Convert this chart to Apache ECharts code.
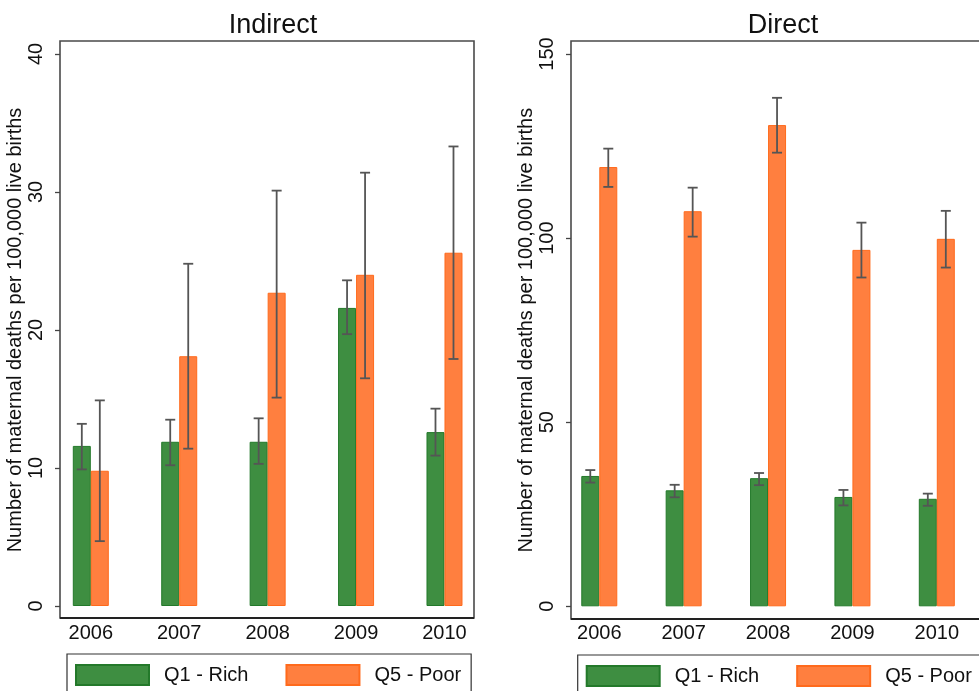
<!DOCTYPE html>
<html>
<head>
<meta charset="utf-8">
<script src="https://cdn.jsdelivr.net/npm/echarts@6/dist/echarts.min.js"></script>
<style>
  html, body { margin: 0; padding: 0; background: #fff; }
  #chart { width: 979px; height: 691px; }
</style>
</head>
<body>
<div id="chart"></div>
<script>
// Maternal deaths per 100,000 live births, richest vs poorest quintile
var years = ['2006', '2007', '2008', '2009', '2010'];
var groupNames = ['Q1 - Rich', 'Q5 - Poor'];

// Indirect causes
var indirectRich   = [11.6, 11.9, 11.9, 21.6, 12.6];
var indirectRichLo = [9.9, 10.2, 10.3, 19.7, 10.9];
var indirectRichHi = [13.2, 13.5, 13.6, 23.6, 14.3];
var indirectPoor   = [9.8, 18.1, 22.7, 24.0, 25.6];
var indirectPoorLo = [4.7, 11.4, 15.1, 16.5, 17.9];
var indirectPoorHi = [14.9, 24.8, 30.1, 31.4, 33.3];

// Direct causes
var directRich   = [35.4, 31.5, 34.8, 29.7, 29.2];
var directRichLo = [33.6, 29.6, 32.9, 27.4, 27.3];
var directRichHi = [37.0, 33.0, 36.2, 31.6, 30.6];
var directPoor   = [119.3, 107.3, 130.7, 96.8, 99.8];
var directPoorLo = [113.9, 100.4, 123.2, 89.3, 92.0];
var directPoorHi = [124.3, 113.7, 138.1, 104.2, 107.4];

var yTicksIndirect = [0, 10, 20, 30, 40];
var yTicksDirect = [0, 50, 100, 150];

var FONT = '"Liberation Sans", Arial, Helvetica, sans-serif';
var GREEN = '#3e8e41', GREEN_EDGE = '#23792a';
var ORANGE = '#ff7f3f', ORANGE_EDGE = '#ff6a1c';
var BAR_W = 18;

function pairs(lo, hi) {
  return lo.map(function (v, i) { return [i, v, hi[i]]; });
}

// vertical whisker with caps, shifted left/right to sit on its bar
function whisker(shiftPx) {
  return function (params, api) {
    var idx = api.value(0);
    var lo = api.coord([idx, api.value(1)]);
    var hi = api.coord([idx, api.value(2)]);
    var x = lo[0] + shiftPx;
    var cap = 5;
    var style = { stroke: '#555', lineWidth: 1.8 };
    return {
      type: 'group',
      children: [
        { type: 'line', shape: { x1: x, y1: lo[1], x2: x, y2: hi[1] }, style: style },
        { type: 'line', shape: { x1: x - cap, y1: lo[1], x2: x + cap, y2: lo[1] }, style: style },
        { type: 'line', shape: { x1: x - cap, y1: hi[1], x2: x + cap, y2: hi[1] }, style: style }
      ]
    };
  };
}

function yAxis(gridIndex, max, interval, offset, ticks) {
  return {
    type: 'value', gridIndex: gridIndex, min: 0, max: max, interval: interval,
    offset: offset,
    name: 'Number of maternal deaths per 100,000 live births',
    nameLocation: 'middle', nameGap: 31,
    nameTextStyle: { fontFamily: FONT, fontSize: 20, color: '#111' },
    axisLine: { show: false },
    axisTick: { show: true, inside: false, length: 5, lineStyle: { color: '#444', width: 1.3 } },
    axisLabel: { rotate: 90, margin: 14, fontFamily: FONT, fontSize: 20, color: '#111' },
    splitLine: { show: false }
  };
}

function xAxis(gridIndex) {
  return {
    type: 'category', gridIndex: gridIndex, data: years,
    axisLine: { show: false }, axisTick: { show: false },
    axisLabel: { margin: 17, fontFamily: FONT, fontSize: 20, color: '#111' }
  };
}

function barSeries(name, data, idx, color, edge) {
  return {
    type: 'bar', name: name, xAxisIndex: idx, yAxisIndex: idx,
    data: data, barWidth: BAR_W, barGap: '0%',
    itemStyle: { color: color, borderColor: edge, borderWidth: 1 },
    silent: true
  };
}

function errSeries(lo, hi, idx, shift) {
  return {
    type: 'custom', xAxisIndex: idx, yAxisIndex: idx,
    data: pairs(lo, hi), encode: { x: 0, y: [1, 2] },
    renderItem: whisker(shift), silent: true, z: 5
  };
}

function legend(left, top) {
  return {
    left: left, top: top, width: 440, orient: 'horizontal',
    data: groupNames, icon: 'rect', itemWidth: 73, itemHeight: 20, itemGap: 37,
    padding: [10, 10, 10, 8], borderColor: '#333', borderWidth: 1.2,
    textStyle: { fontFamily: FONT, fontSize: 20, color: '#111', padding: [0, 0, 0, 10] },
    selectedMode: false
  };
}

var frameStyle = { fill: 'none', stroke: '#4a4a4a', lineWidth: 1.6 };

var option = {
  animation: false,
  backgroundColor: '#fff',
  title: [
    { text: 'Indirect', left: 268, top: 7, textAlign: 'center',
      textStyle: { fontFamily: FONT, fontSize: 27, fontWeight: 'normal', color: '#111' } },
    { text: 'Direct', left: 778, top: 7, textAlign: 'center',
      textStyle: { fontFamily: FONT, fontSize: 27, fontWeight: 'normal', color: '#111' } }
  ],
  grid: [
    { left: 46.6, width: 442.1, top: 54, height: 552 },
    { left: 557.1, width: 442.1, top: 54, height: 552.3 }
  ],
  xAxis: [xAxis(0), xAxis(1)],
  yAxis: [yAxis(0, 40, 10, -13.4), yAxis(1, 150, 50, -13.9)],
  legend: [legend(67, 654), legend(577.7, 655)],
  graphic: [
    { type: 'rect', shape: { x: 60, y: 41, width: 414, height: 577 }, style: frameStyle, silent: true },
    { type: 'line', shape: { x1: 60, y1: 618, x2: 474, y2: 618 }, style: { stroke: '#222', lineWidth: 2 }, silent: true },
    { type: 'rect', shape: { x: 571, y: 41, width: 414, height: 578 }, style: frameStyle, silent: true },
    { type: 'line', shape: { x1: 571, y1: 619, x2: 985, y2: 619 }, style: { stroke: '#222', lineWidth: 2 }, silent: true }
  ],
  series: [
    barSeries(groupNames[0], indirectRich, 0, GREEN, GREEN_EDGE),
    barSeries(groupNames[1], indirectPoor, 0, ORANGE, ORANGE_EDGE),
    errSeries(indirectRichLo, indirectRichHi, 0, -BAR_W / 2),
    errSeries(indirectPoorLo, indirectPoorHi, 0, BAR_W / 2),
    barSeries(groupNames[0], directRich, 1, GREEN, GREEN_EDGE),
    barSeries(groupNames[1], directPoor, 1, ORANGE, ORANGE_EDGE),
    errSeries(directRichLo, directRichHi, 1, -BAR_W / 2),
    errSeries(directPoorLo, directPoorHi, 1, BAR_W / 2)
  ]
};

var chart = echarts.init(document.getElementById('chart'), null, { renderer: 'canvas' });
chart.setOption(option);
</script>
</body>
</html>
